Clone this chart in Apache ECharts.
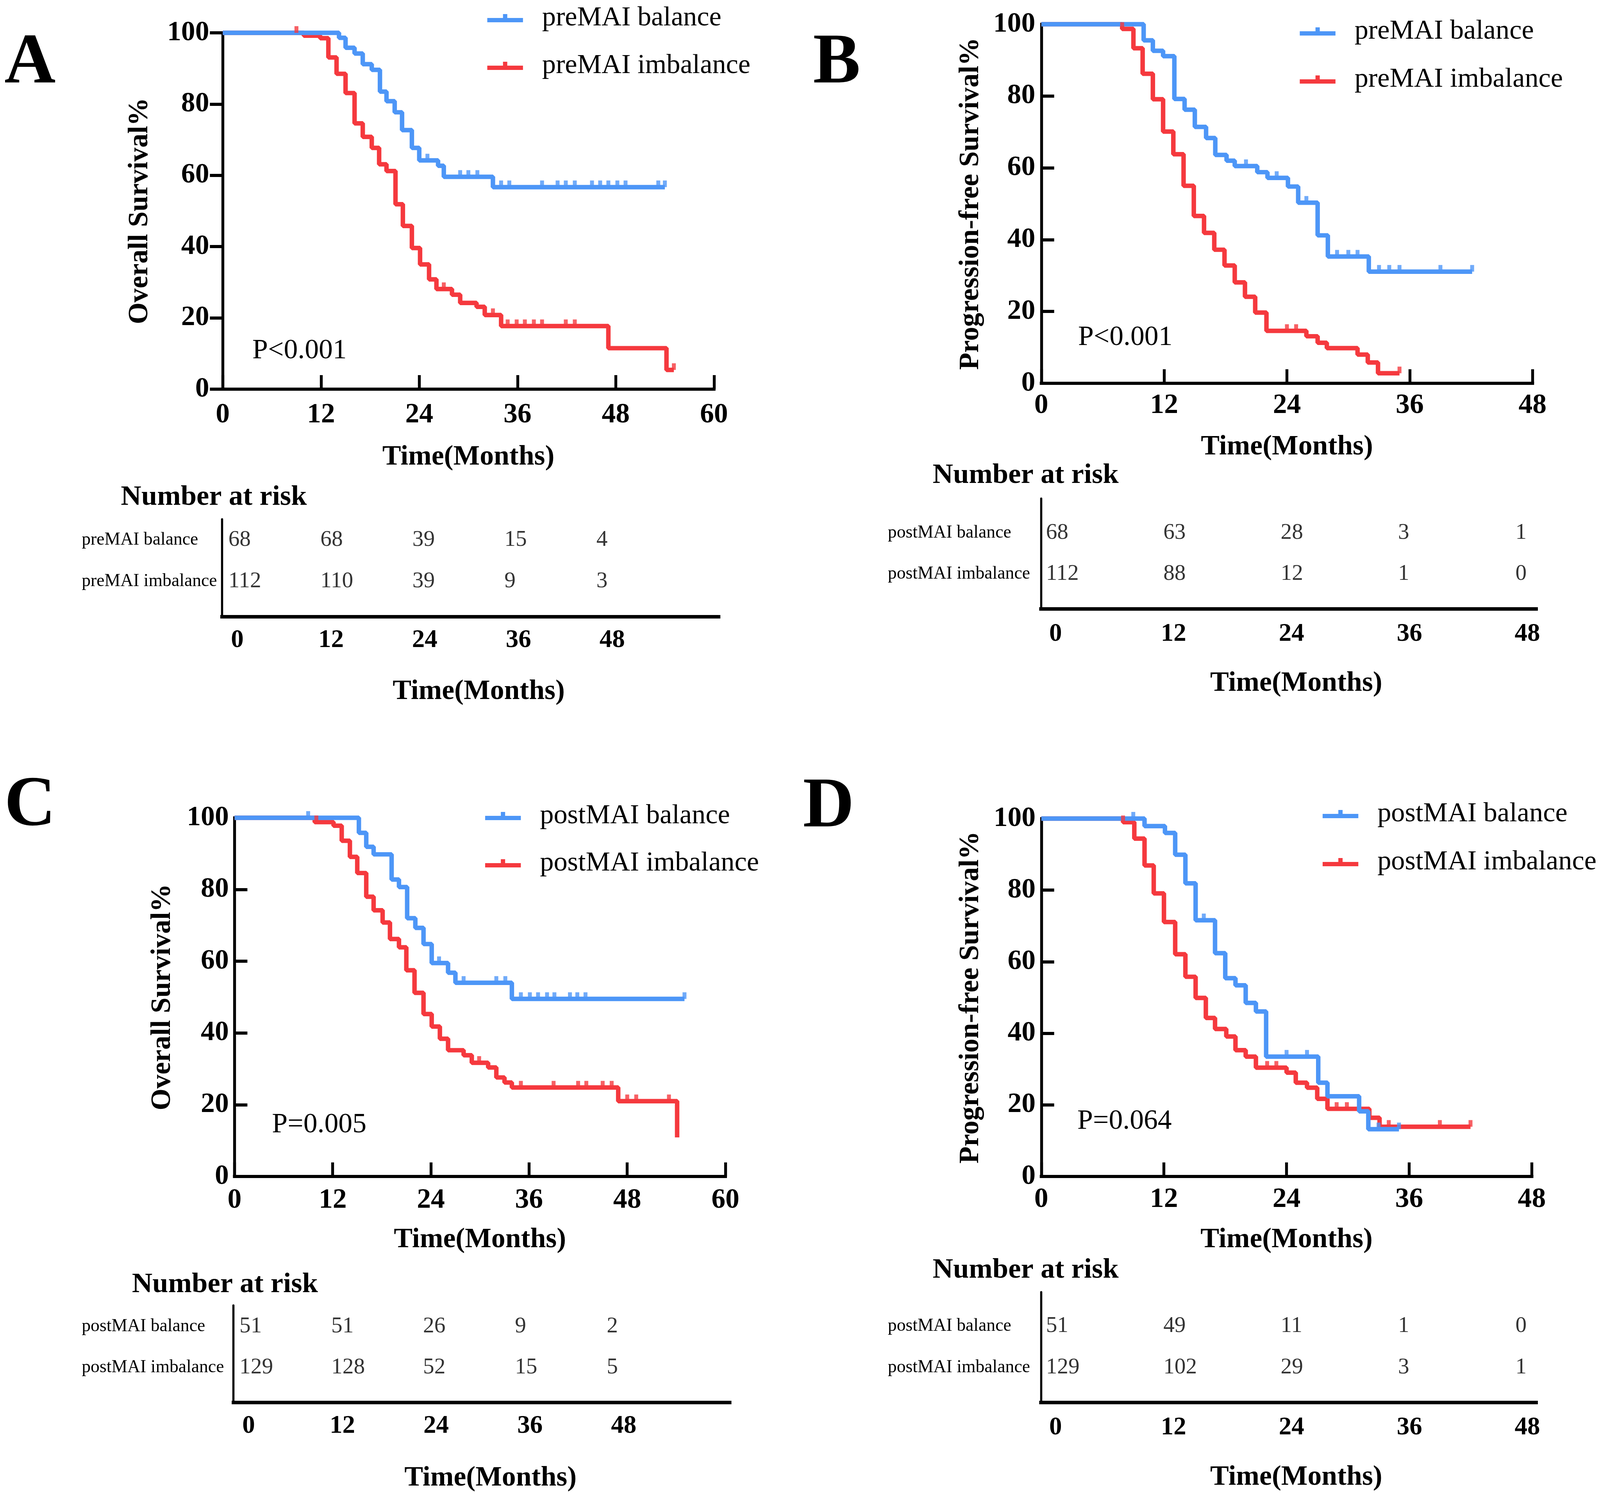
<!DOCTYPE html>
<html><head><meta charset="utf-8">
<script src="https://cdn.jsdelivr.net/npm/echarts@6/dist/echarts.min.js"></script>
<style>html,body{margin:0;padding:0;background:#fff;overflow:hidden}#c{width:100vw;height:100vh}</style>
</head><body><div id="c"></div>
<script>
// ---------------- DATA ----------------
const riskTimes = [0, 12, 24, 36, 48];
const preNames = ['preMAI balance', 'preMAI imbalance'];
const postNames = ['postMAI balance', 'postMAI imbalance'];

// Panel A: overall survival by preMAI
const aBalT = [14.2, 15.0, 16.1, 17.1, 18.2, 19.2, 20.0, 21.0, 21.9, 23.1, 24.0, 26.3, 27.0, 33.0];
const aBalS = [98.6, 95.8, 94.2, 91.2, 89.6, 83.5, 80.8, 77.7, 72.7, 67.7, 64.2, 62.7, 59.6, 56.7];
const aBalC = [25.0, 29.0, 30.0, 31.1, 34.0, 35.0, 39.0, 40.9, 41.9, 43.0, 45.1, 46.1, 47.1, 48.2, 49.2, 53.2, 54.0];
const aImbT = [9.9, 11.9, 12.9, 13.9, 15.0, 16.1, 17.1, 18.2, 19.1, 20.0, 21.1, 22.0, 23.1, 24.1, 25.2, 26.1, 28.0, 29.0, 31.0, 32.0, 34.0, 47.1, 54.2];
const aImbS = [99.2, 98.5, 93.1, 88.5, 83.1, 74.6, 70.8, 67.7, 63.1, 61.2, 51.9, 45.8, 39.6, 35.0, 30.8, 28.1, 26.5, 24.2, 23.1, 20.8, 17.7, 11.5, 5.4];
const aImbC = [9.0, 27.0, 33.0, 34.8, 35.9, 36.9, 38.0, 39.0, 41.9, 43.0, 55.1];

// Panel B: progression-free survival by preMAI
const bBalT = [10.0, 10.9, 11.9, 13.0, 14.0, 15.0, 16.1, 17.0, 18.1, 18.9, 21.1, 22.1, 24.1, 25.1, 27.0, 28.0, 32.0];
const bBalS = [95.5, 92.6, 91.1, 79.2, 76.2, 71.4, 68.3, 63.6, 62.0, 60.5, 58.8, 57.2, 54.8, 50.3, 41.2, 35.3, 31.1];
const bBalC = [20.0, 23.0, 25.9, 28.9, 30.0, 30.9, 33.0, 34.0, 35.0, 39.0, 42.1];
const bImbT = [7.9, 9.0, 9.9, 10.9, 11.9, 12.9, 13.9, 14.9, 15.9, 16.9, 17.9, 18.9, 19.9, 20.9, 22.0, 25.9, 27.0, 27.9, 30.9, 31.9, 32.9];
const bImbS = [98.7, 93.3, 86.2, 79.1, 70.1, 63.8, 55.0, 46.6, 41.9, 37.2, 32.8, 28.1, 24.1, 19.7, 14.6, 13.1, 11.3, 9.8, 8.0, 5.8, 2.8];
const bImbC = [7.9, 24.0, 24.9, 35.0];

// Panel C: overall survival by postMAI
const cBalT = [15.2, 16.1, 17.0, 19.2, 20.1, 21.1, 22.1, 23.1, 24.1, 26.1, 27.0, 33.9];
const cBalS = [95.8, 91.9, 89.8, 82.8, 80.7, 72.0, 69.3, 64.8, 59.5, 56.8, 54.0, 49.5];
const cBalC = [9.0, 25.0, 28.0, 32.0, 33.1, 35.0, 36.1, 37.1, 38.2, 39.1, 41.0, 41.9, 42.9, 55.0];
const cImbT = [9.8, 12.1, 13.1, 14.1, 15.0, 16.1, 17.0, 18.1, 19.0, 20.1, 21.0, 22.0, 23.1, 24.1, 25.1, 26.1, 28.0, 29.0, 31.0, 32.0, 33.0, 33.9, 46.9, 54.1];
const cImbS = [98.8, 97.8, 93.6, 89.1, 84.6, 78.0, 74.2, 70.8, 66.2, 63.9, 57.5, 51.2, 45.3, 41.8, 38.4, 35.2, 33.8, 31.7, 30.4, 27.6, 26.2, 24.8, 21.0, 10.9];
const cImbC = [10.0, 29.9, 35.0, 39.0, 42.0, 43.0, 45.0, 46.1, 48.0, 49.1, 53.1];

// Panel D: progression-free survival by postMAI
const dBalT = [10.1, 12.1, 13.1, 14.1, 15.1, 17.0, 18.0, 19.0, 20.0, 21.0, 22.0, 27.1, 28.0, 31.1, 32.0];
const dBalS = [97.9, 96.0, 89.9, 81.9, 71.6, 62.4, 55.4, 53.4, 48.5, 46.1, 33.5, 26.2, 22.4, 18.2, 13.2];
const dBalC = [9.0, 15.9, 24.0, 26.0, 33.0, 35.0];
const dImbT = [8.0, 9.1, 10.1, 11.0, 12.0, 13.1, 14.1, 15.1, 16.1, 17.0, 18.1, 19.0, 20.0, 21.0, 24.0, 24.9, 26.0, 27.0, 28.0, 32.1, 33.1];
const dImbS = [99.0, 94.4, 86.9, 79.1, 71.1, 62.1, 55.8, 49.9, 44.3, 41.2, 39.1, 35.3, 33.5, 30.4, 29.0, 26.2, 24.8, 21.7, 18.9, 16.4, 13.9];
const dImbC = [8.0, 22.1, 23.0, 28.9, 29.9, 34.0, 39.0, 42.0];

// Numbers at risk
const aRiskBal = [68, 68, 39, 15, 4];
const aRiskImb = [112, 110, 39, 9, 3];
const bRiskBal = [68, 63, 28, 3, 1];
const bRiskImb = [112, 88, 12, 1, 0];
const cRiskBal = [51, 51, 26, 9, 2];
const cRiskImb = [129, 128, 52, 15, 5];
const dRiskBal = [51, 49, 11, 1, 0];
const dRiskImb = [129, 102, 29, 3, 1];

// ---------------- STYLE / LAYOUT (reference pixels, mapped onto the viewport) ----------------
const REF_W = 4482, REF_H = 3839;
const sx = window.innerWidth / REF_W, sy = window.innerHeight / REF_H;
const sf = Math.sqrt(sx * sy);
const kx = (v) => v * sx, ky = (v) => v * sy, kf = (v) => v * sf;
const FONT = 'Liberation Serif, "Times New Roman", serif';
const BLUE = '#4D96F7', RED = '#F5393E';
const LEG_ICON = 'path://M0,11L100,11L100,23L0,23Z M44,0L56,0L56,11L44,11Z';
const black = '#000';

const panels = [
  { grid:{left:624, top:84, width:1376, height:912}, xMax:60, yTitle:'Overall Survival%', yNameGap:192, xNameGap:138,
    xLabelMargin:30, yLabelMargin:38, yTickInside:false, names:preNames,
    bal:[aBalT,aBalS,aBalC], imb:[aImbT,aImbS,aImbC], legend:{left:1365, line:52, gap:122},
    table:{grid:{left:622, top:1329, width:1391, height:249}, xMin:-1.957, xMax:61.63, nMin:-0.829, nMax:63.94,
      yMin:-0.5, yMax:1.849, labelMargin:29, rowLabelMargin:393, nameGap:156, namePad:47, rows:preNames, counts:[aRiskBal,aRiskImb]},
    letter:{text:'A', x:84, y:164}, p:{text:'P<0.001', x:707, y:898}, nar:{x:599, y:1273} },
  { grid:{left:2917, top:62, width:1376, height:919}, xMax:48, yTitle:'Progression-free Survival%', yNameGap:158, xNameGap:127,
    xLabelMargin:21, yLabelMargin:17, yTickInside:true, names:preNames,
    bal:[bBalT,bBalS,bBalC], imb:[bImbT,bImbS,bImbC], legend:{left:3641, line:86, gap:123},
    table:{grid:{left:2916, top:1276, width:1387, height:282}, xMin:-1.489, xMax:48.886, nMin:-0.511, nMax:50.11,
      yMin:-0.838, yMax:1.848, labelMargin:33, rowLabelMargin:429, nameGap:155, namePad:43, rows:postNames, counts:[bRiskBal,bRiskImb]},
    letter:{text:'B', x:2344, y:164}, p:{text:'P<0.001', x:3020, y:864}, nar:{x:2873, y:1217} },
  { grid:{left:657, top:2093, width:1375, height:918}, xMax:60, yTitle:'Overall Survival%', yNameGap:162, xNameGap:126,
    xLabelMargin:25, yLabelMargin:16, yTickInside:true, names:postNames,
    bal:[cBalT,cBalS,cBalC], imb:[cImbT,cImbS,cImbC], legend:{left:1359, line:2094, gap:121},
    table:{grid:{left:654, top:3341, width:1390, height:248}, xMin:-1.937, xMax:61.56, nMin:-0.784, nMax:64.07,
      yMin:-0.514, yMax:1.848, labelMargin:29, rowLabelMargin:425, nameGap:158, namePad:50, rows:postNames, counts:[cRiskBal,cRiskImb]},
    letter:{text:'C', x:84, y:2064}, p:{text:'P=0.005', x:762, y:2879}, nar:{x:630, y:3288} },
  { grid:{left:2917, top:2095, width:1374, height:916}, xMax:48, yTitle:'Progression-free Survival%', yNameGap:158, xNameGap:126,
    xLabelMargin:23, yLabelMargin:16, yTickInside:true, names:postNames,
    bal:[dBalT,dBalS,dBalC], imb:[dImbT,dImbS,dImbC], legend:{left:3705, line:2089, gap:123},
    table:{grid:{left:2916, top:3307, width:1387, height:282}, xMin:-1.489, xMax:48.886, nMin:-0.511, nMax:50.11,
      yMin:-0.821, yMax:1.84, labelMargin:33, rowLabelMargin:429, nameGap:156, namePad:43, rows:postNames, counts:[dRiskBal,dRiskImb]},
    letter:{text:'D', x:2321, y:2068}, p:{text:'P=0.064', x:3018, y:2870}, nar:{x:2873, y:3251} }
];

function survAt(T, S, t) {
  let v = 100;
  for (let i = 0; i < T.length; i++) { if (T[i] <= t + 1e-9) v = S[i]; else break; }
  return v;
}
function kmLine(T, S, C) {
  const lastT = T[T.length - 1];
  const end = Math.max(lastT, C.length ? C[C.length - 1] : 0);
  const d = [[0, 100]];
  T.forEach((t, i) => d.push([t, S[i]]));
  if (end > lastT) d.push([end, S[S.length - 1]]);
  return d;
}
function scaledGrid(g) { return {left:kx(g.left), top:ky(g.top), width:kx(g.width), height:ky(g.height)}; }

const chart = echarts.init(document.getElementById('c'), null, {renderer:'canvas'});
const option = {backgroundColor:'#fff', animation:false, grid:[], xAxis:[], yAxis:[], series:[], legend:[], graphic:[]};

panels.forEach((p) => {
  // ---- survival plot ----
  const gi = option.grid.length;
  const xi = option.xAxis.length, yi = option.yAxis.length;
  option.grid.push(scaledGrid(p.grid));
  option.xAxis.push({
    gridIndex:gi, type:'value', min:0, max:p.xMax, interval:12,
    axisLine:{show:true, onZero:false, lineStyle:{color:black, width:ky(8), cap:'square'}},
    axisTick:{show:true, inside:true, length:ky(36), lineStyle:{color:black, width:kx(8)}},
    axisLabel:{margin:ky(p.xLabelMargin), color:black, fontFamily:FONT, fontWeight:'bold', fontSize:kf(75)},
    splitLine:{show:false},
    name:'Time(Months)', nameLocation:'middle', nameGap:ky(p.xNameGap),
    nameTextStyle:{color:black, fontFamily:FONT, fontWeight:'bold', fontSize:kf(75)}
  });
  option.yAxis.push({
    gridIndex:gi, type:'value', min:0, max:100, interval:20,
    axisLine:{show:true, onZero:false, lineStyle:{color:black, width:kx(8), cap:'square'}},
    axisTick:{show:true, inside:p.yTickInside, length:kx(36), lineStyle:{color:black, width:ky(8)}},
    axisLabel:{margin:kx(p.yLabelMargin), color:black, fontFamily:FONT, fontWeight:'bold', fontSize:kf(75)},
    splitLine:{show:false},
    name:p.yTitle, nameLocation:'middle', nameGap:kx(p.yNameGap), nameRotate:90,
    nameTextStyle:{color:black, fontFamily:FONT, fontWeight:'bold', fontSize:kf(75)}
  });
  const groups = [[p.imb, p.names[1], RED], [p.bal, p.names[0], BLUE]];
  groups.forEach(([g, name, col]) => {
    option.series.push({
      type:'line', name:name, xAxisIndex:xi, yAxisIndex:yi, data:kmLine(g[0], g[1], g[2]),
      step:'end', symbol:'none', showSymbol:false, clip:false, color:col,
      lineStyle:{color:col, width:kf(12)}, z:2, silent:true
    });
  });
  groups.forEach(([g, name, col]) => {
    option.series.push({
      type:'scatter', name:name + ' (censored)', xAxisIndex:xi, yAxisIndex:yi,
      data:g[2].map(t => [t, survAt(g[0], g[1], t)]),
      symbol:'rect', symbolSize:[kx(11), ky(17)], symbolOffset:[0, -ky(8.5)], clip:false,
      itemStyle:{color:col}, z:3, silent:true
    });
  });
  // legend rows: text box = 80 line + 33 top padding (113); icon line centre sits 62 below row top
  const rowH = 113;
  option.legend.push({
    data:[p.names[0], p.names[1]], orient:'vertical', left:kx(p.legend.left),
    top:ky(p.legend.line - 62), itemGap:ky(p.legend.gap - rowH),
    itemWidth:kx(100), itemHeight:ky(23), icon:LEG_ICON, padding:0, selectedMode:false,
    textStyle:{color:black, fontFamily:FONT, fontSize:kx(77), lineHeight:ky(80), padding:[ky(33), 0, 0, kx(48)]}
  });

  // ---- number-at-risk table ----
  const t = p.table;
  const ti = option.grid.length;
  const txi = option.xAxis.length, tyi = option.yAxis.length;
  option.grid.push(scaledGrid(t.grid));
  option.xAxis.push({
    gridIndex:ti, type:'value', min:t.xMin, max:t.xMax,
    axisLine:{show:true, onZero:false, lineStyle:{color:black, width:ky(9), cap:'square'}},
    axisTick:{show:false}, splitLine:{show:false},
    axisLabel:{customValues:riskTimes, margin:ky(t.labelMargin), color:black, fontFamily:FONT, fontWeight:'bold', fontSize:kf(68)},
    name:'Time(Months)', nameLocation:'middle', nameGap:ky(t.nameGap),
    nameTextStyle:{color:black, fontFamily:FONT, fontWeight:'bold', fontSize:kf(75), padding:[0, 0, 0, kx(t.namePad)]}
  });
  // hidden axis that places the count columns
  option.xAxis.push({
    gridIndex:ti, type:'value', min:t.nMin, max:t.nMax, show:false,
    axisLine:{show:false, onZero:false}, axisTick:{show:false}, axisLabel:{show:false}, splitLine:{show:false}
  });
  option.yAxis.push({
    gridIndex:ti, type:'value', min:t.yMin, max:t.yMax, inverse:true,
    axisLine:{show:true, onZero:false, lineStyle:{color:black, width:kx(6)}},
    axisTick:{show:false}, splitLine:{show:false},
    axisLabel:{customValues:[0, 1], formatter:(v) => t.rows[Math.round(v)] || '', align:'left',
      margin:kx(t.rowLabelMargin), color:black, fontFamily:FONT, fontSize:kx(50)}
  });
  t.counts.forEach((row, r) => {
    option.series.push({
      type:'scatter', xAxisIndex:txi + 1, yAxisIndex:tyi, silent:true, symbolSize:1, clip:false,
      itemStyle:{color:'rgba(0,0,0,0)'},
      data:riskTimes.map((tm, i) => [tm, r, row[i]]),
      label:{show:true, position:'inside', align:'left', verticalAlign:'middle',
        formatter:(q) => String(q.value[2]), color:black, fontFamily:FONT, fontSize:kf(60)}
    });
  });

  // ---- free texts ----
  option.graphic.push(
    {type:'text', x:kx(p.letter.x), y:ky(p.letter.y), silent:true,
     style:{text:p.letter.text, fill:black, fontFamily:FONT, fontWeight:'bold', fontSize:kf(190), align:'center', verticalAlign:'middle'}},
    {type:'text', x:kx(p.p.x), y:ky(p.p.y), silent:true,
     style:{text:p.p.text, fill:black, fontFamily:FONT, fontSize:kf(75), align:'left', verticalAlign:'middle'}},
    {type:'text', x:kx(p.nar.x), y:ky(p.nar.y), silent:true,
     style:{text:'Number at risk', fill:black, fontFamily:FONT, fontWeight:'bold', fontSize:kf(76), align:'center', verticalAlign:'middle'}}
  );
});

chart.setOption(option);
</script>
</body></html>
